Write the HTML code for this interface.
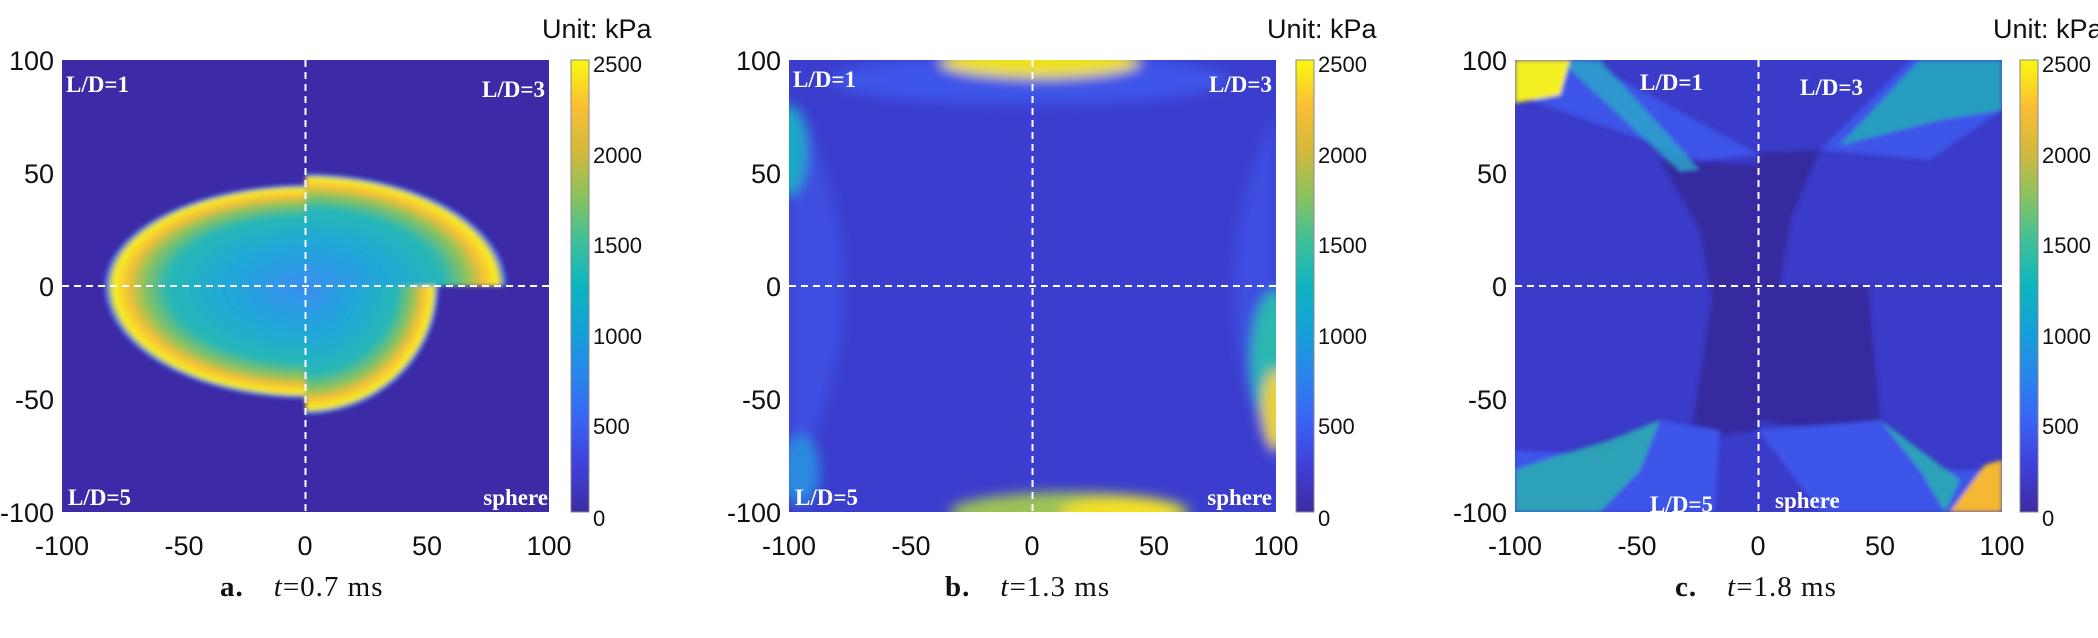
<!DOCTYPE html>
<html><head><meta charset="utf-8"><style>
html,body{margin:0;padding:0;background:#fff;}
svg{display:block;}
.t{font-family:"Liberation Sans",Arial,sans-serif;font-size:27px;fill:#111;}
.c{font-family:"Liberation Sans",Arial,sans-serif;font-size:22px;fill:#111;}
.lab{font-family:"Liberation Serif",serif;font-weight:bold;font-size:23px;fill:#fff;}
.cap{font-family:"Liberation Serif",serif;font-size:29px;fill:#111;letter-spacing:1px;}
</style></head><body>
<svg width="2098" height="638" viewBox="0 0 2098 638" xmlns="http://www.w3.org/2000/svg">
<defs>
<linearGradient id="parula" x1="0" y1="1" x2="0" y2="0">
<stop offset="0" stop-color="#3b2ca0"/><stop offset="0.1" stop-color="#3f3fd8"/>
<stop offset="0.2" stop-color="#3a62f5"/><stop offset="0.3" stop-color="#2a85ec"/>
<stop offset="0.4" stop-color="#14a0d8"/><stop offset="0.5" stop-color="#0db5c0"/>
<stop offset="0.6" stop-color="#3ec098"/><stop offset="0.7" stop-color="#8cc25e"/>
<stop offset="0.8" stop-color="#d4b93c"/><stop offset="0.9" stop-color="#fbbf34"/>
<stop offset="1" stop-color="#f8f90f"/></linearGradient>
<radialGradient id="blob">
<stop offset="0" stop-color="#3a8ef0"/><stop offset="0.4" stop-color="#1fa8d8"/>
<stop offset="0.68" stop-color="#28b7b5"/><stop offset="0.8" stop-color="#8cc25e"/>
<stop offset="0.88" stop-color="#f6c035"/><stop offset="0.95" stop-color="#f8f020"/>
<stop offset="0.99" stop-color="#3a62f5"/><stop offset="1" stop-color="#3b2ca0"/></radialGradient>
<filter id="bl"><feGaussianBlur stdDeviation="2"/></filter>
<filter id="bl6"><feGaussianBlur stdDeviation="6"/></filter>
<clipPath id="pa"><rect x="62" y="60" width="487" height="452"/></clipPath>
<clipPath id="pb"><rect x="789" y="60" width="487" height="452"/></clipPath>
<clipPath id="pc"><rect x="1515" y="60" width="487" height="452"/></clipPath>
<clipPath id="aTL"><rect x="62" y="60" width="243.5" height="226"/></clipPath>
<clipPath id="aTR"><rect x="305.5" y="60" width="243.5" height="226"/></clipPath>
<clipPath id="aBL"><rect x="62" y="286" width="243.5" height="226"/></clipPath>
<clipPath id="aBR"><rect x="305.5" y="286" width="243.5" height="226"/></clipPath>
</defs>

<!-- Panel a -->
<rect x="62" y="60" width="487" height="452" fill="#3c2aa6"/>
<g filter="url(#bl)">
<ellipse cx="305.5" cy="286" rx="202" ry="102" fill="url(#blob)" clip-path="url(#aTL)"/>
<ellipse cx="305.5" cy="286" rx="202" ry="113" fill="url(#blob)" clip-path="url(#aTR)"/>
<ellipse cx="305.5" cy="286" rx="202" ry="113" fill="url(#blob)" clip-path="url(#aBL)"/>
<ellipse cx="305.5" cy="286" rx="134" ry="129" fill="url(#blob)" clip-path="url(#aBR)"/>
</g>
<line x1="305.5" y1="60" x2="305.5" y2="512" stroke="#fff" stroke-width="2" stroke-dasharray="7,5"/>
<line x1="62" y1="286" x2="549" y2="286" stroke="#fff" stroke-width="2" stroke-dasharray="7,5"/>
<text class="lab" x="66" y="92">L/D=1</text>
<text class="lab" x="545" y="97" text-anchor="end">L/D=3</text>
<text class="lab" x="68" y="505">L/D=5</text>
<text class="lab" x="548" y="505" text-anchor="end">sphere</text>

<!-- Panel b -->
<g clip-path="url(#pb)">
<rect x="789" y="60" width="487" height="452" fill="#3b3dce"/>
<g filter="url(#bl6)">
<ellipse cx="1030" cy="80" rx="200" ry="25" fill="#3e55e8"/>
<path d="M800,110 Q890,286 800,470 L789,470 L789,110 Z" fill="#3e4ee0"/>
<path d="M1276,110 Q1190,286 1276,470 Z" fill="#3e4ee0"/>
<ellipse cx="1040" cy="62" rx="100" ry="16" fill="#eee020"/>
<ellipse cx="1070" cy="512" rx="120" ry="20" fill="#9cc255"/>
<ellipse cx="1120" cy="512" rx="60" ry="14" fill="#f4e020"/>
<ellipse cx="1276" cy="360" rx="25" ry="70" fill="#2ab7b0"/>
<ellipse cx="1276" cy="410" rx="14" ry="40" fill="#e8d030"/>
<ellipse cx="789" cy="150" rx="18" ry="45" fill="#1fa8c8"/>
<ellipse cx="800" cy="470" rx="20" ry="35" fill="#2a8ae0"/>
</g>
</g>
<line x1="1032.5" y1="60" x2="1032.5" y2="512" stroke="#fff" stroke-width="2" stroke-dasharray="7,5"/>
<line x1="789" y1="286" x2="1276" y2="286" stroke="#fff" stroke-width="2" stroke-dasharray="7,5"/>
<text class="lab" x="793" y="87">L/D=1</text>
<text class="lab" x="1272" y="92" text-anchor="end">L/D=3</text>
<text class="lab" x="795" y="505">L/D=5</text>
<text class="lab" x="1272" y="505" text-anchor="end">sphere</text>

<!-- Panel c -->
<g clip-path="url(#pc)">
<rect x="1515" y="60" width="487" height="452" fill="#3a3bc8"/>
<polygon points="1660,160 1758,165 1758,153 1820,150 1790,220 1780,286 1868,286 1882,440 1758,420 1758,430 1690,440 1712,300 1700,230" fill="#34299f" filter="url(#bl)"/>
<g filter="url(#bl)">
<polygon points="1515,60 1585,60 1760,155 1700,160 1530,100 1515,100" fill="#3e55e8"/>
<polygon points="1560,60 1600,60 1700,170 1680,172" fill="#2aa8c8" opacity="0.8"/>
<polygon points="1515,60 1570,60 1560,95 1515,103" fill="#f5f020"/>
<polygon points="1910,60 2002,60 2002,110 1930,160 1820,150" fill="#3e55e8"/>
<polygon points="1920,60 2002,60 2002,110 1940,120 1840,145" fill="#25aab8" opacity="0.85"/>
<polygon points="1515,450 1600,455 1660,420 1720,430 1715,512 1515,512" fill="#3e55e8"/>
<polygon points="1515,470 1560,455 1610,440 1660,420 1640,470 1600,512 1515,512" fill="#2ab0b0" opacity="0.85"/>
<polygon points="1880,420 1940,470 2002,470 2002,512 1820,512 1758,430" fill="#3e55e8"/>
<polygon points="1880,420 1960,480 1945,512 1920,470" fill="#2ab0b0" opacity="0.85"/>
<polygon points="1950,512 1985,465 2002,460 2002,512" fill="#f5b830"/>
</g>
</g>
<line x1="1758.5" y1="60" x2="1758.5" y2="512" stroke="#fff" stroke-width="2" stroke-dasharray="7,5"/>
<line x1="1515" y1="286" x2="2002" y2="286" stroke="#fff" stroke-width="2" stroke-dasharray="7,5"/>
<text class="lab" x="1640" y="90">L/D=1</text>
<text class="lab" x="1800" y="95">L/D=3</text>
<text class="lab" x="1650" y="512">L/D=5</text>
<text class="lab" x="1775" y="508">sphere</text>

<!-- colorbars -->
<g>
<rect x="571" y="60" width="18" height="452" fill="url(#parula)" stroke="#888" stroke-width="1"/>
<rect x="1296" y="60" width="18" height="452" fill="url(#parula)" stroke="#888" stroke-width="1"/>
<rect x="2020" y="60" width="18" height="452" fill="url(#parula)" stroke="#888" stroke-width="1"/>
</g>
<g class="c">
<text x="593" y="72">2500</text><text x="593" y="163">2000</text><text x="593" y="253">1500</text><text x="593" y="344">1000</text><text x="593" y="434">500</text><text x="593" y="526">0</text>
<text x="1318" y="72">2500</text><text x="1318" y="163">2000</text><text x="1318" y="253">1500</text><text x="1318" y="344">1000</text><text x="1318" y="434">500</text><text x="1318" y="526">0</text>
<text x="2042" y="72">2500</text><text x="2042" y="163">2000</text><text x="2042" y="253">1500</text><text x="2042" y="344">1000</text><text x="2042" y="434">500</text><text x="2042" y="526">0</text>
</g>
<g class="t">
<text x="542" y="38">Unit: kPa</text>
<text x="1267" y="38">Unit: kPa</text>
<text x="1993" y="38">Unit: kPa</text>
</g>
<!-- axes labels -->
<g class="t" text-anchor="end">
<text x="54" y="70">100</text><text x="54" y="183">50</text><text x="54" y="296">0</text><text x="54" y="409">-50</text><text x="54" y="522">-100</text>
<text x="781" y="70">100</text><text x="781" y="183">50</text><text x="781" y="296">0</text><text x="781" y="409">-50</text><text x="781" y="522">-100</text>
<text x="1507" y="70">100</text><text x="1507" y="183">50</text><text x="1507" y="296">0</text><text x="1507" y="409">-50</text><text x="1507" y="522">-100</text>
</g>
<g class="t" text-anchor="middle">
<text x="62" y="555">-100</text><text x="184" y="555">-50</text><text x="305" y="555">0</text><text x="427" y="555">50</text><text x="549" y="555">100</text>
<text x="789" y="555">-100</text><text x="911" y="555">-50</text><text x="1032" y="555">0</text><text x="1154" y="555">50</text><text x="1276" y="555">100</text>
<text x="1515" y="555">-100</text><text x="1637" y="555">-50</text><text x="1758" y="555">0</text><text x="1880" y="555">50</text><text x="2002" y="555">100</text>
</g>
<g class="cap">
<text x="220" y="596"><tspan font-weight="bold">a.</tspan><tspan dx="30" font-style="italic">t</tspan>=0.7 ms</text>
<text x="945" y="596"><tspan font-weight="bold">b.</tspan><tspan dx="30" font-style="italic">t</tspan>=1.3 ms</text>
<text x="1675" y="596"><tspan font-weight="bold">c.</tspan><tspan dx="30" font-style="italic">t</tspan>=1.8 ms</text>
</g>
</svg>
</body></html>
